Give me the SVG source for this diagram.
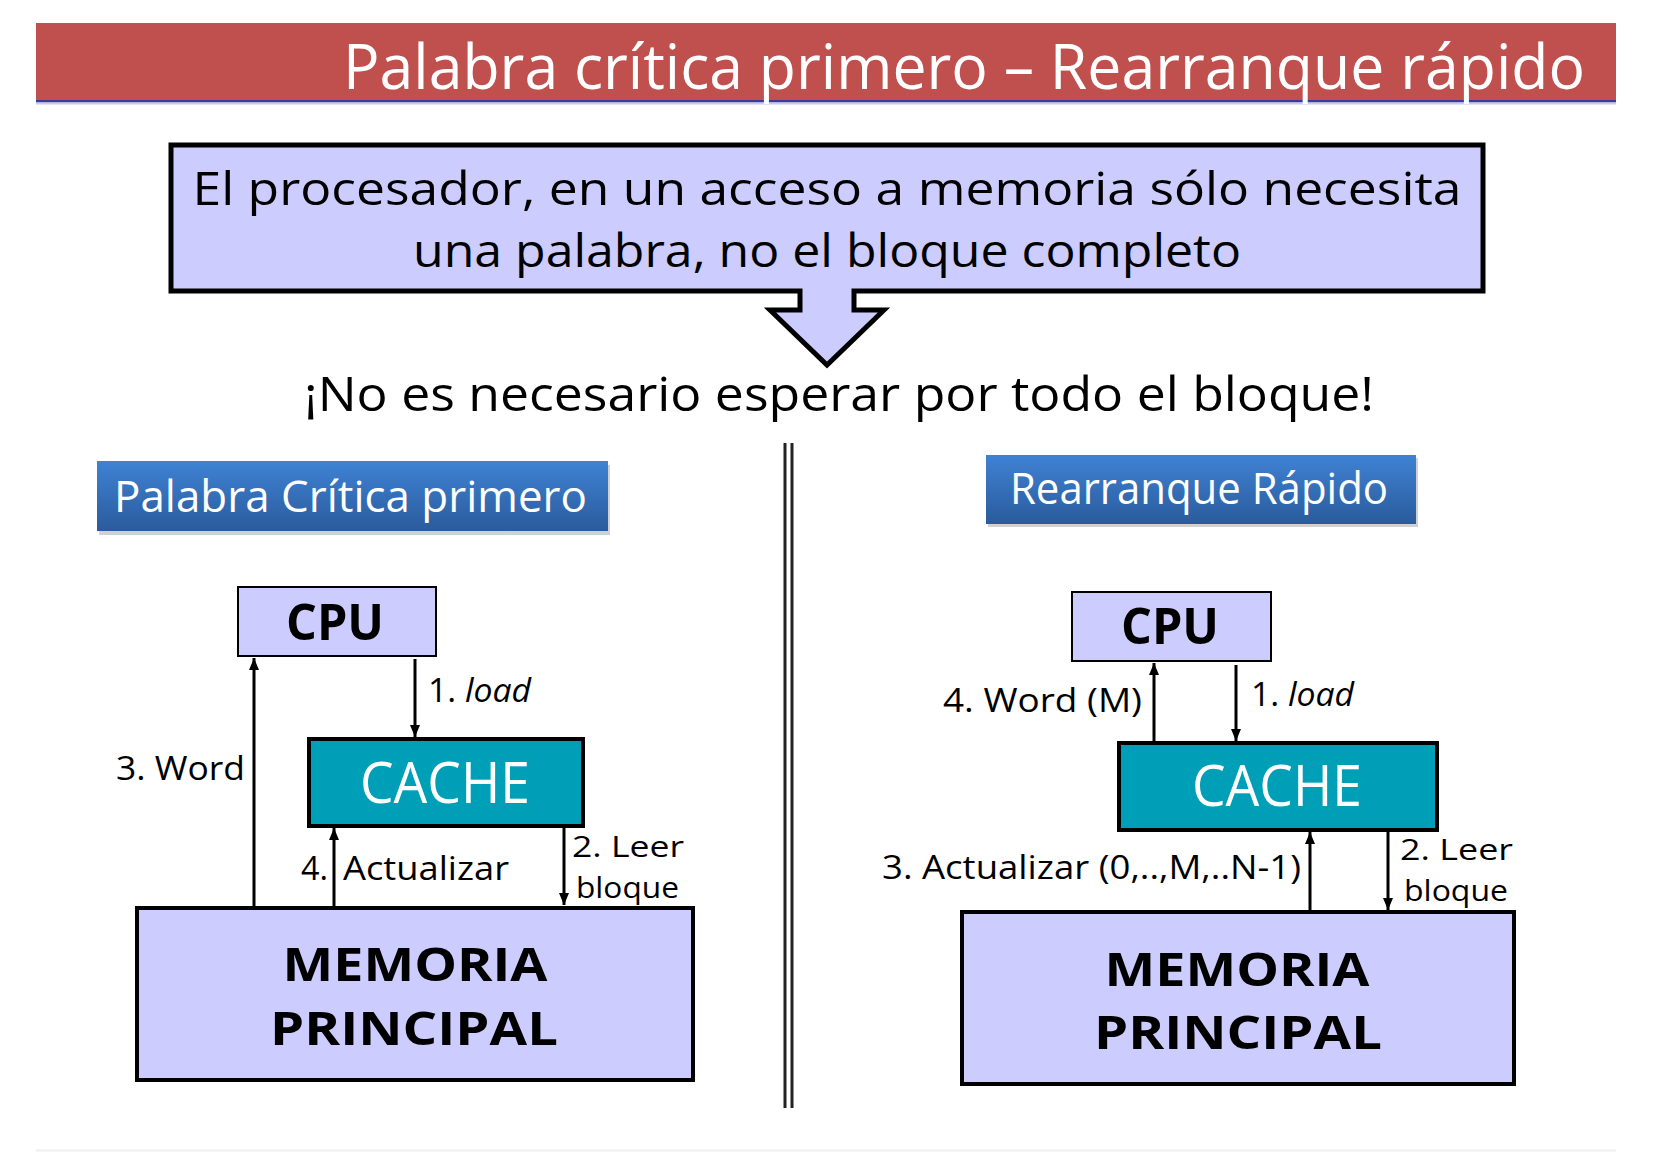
<svg xmlns="http://www.w3.org/2000/svg" width="1654" height="1152" viewBox="0 0 1654 1152">
<style>
.t{font-family:"Open Sans","Liberation Sans",sans-serif;}
.box{fill:#ccccff;stroke:#000;}
.cache{fill:#009fb8;stroke:#000;stroke-width:4;}
.lbl{font-family:"Open Sans","Liberation Sans",sans-serif;font-size:33px;fill:#000;}
.lbs{font-family:"Open Sans","Liberation Sans",sans-serif;font-size:29px;fill:#000;}
.big{font-family:"Open Sans","Liberation Sans",sans-serif;font-weight:700;fill:#000;text-anchor:middle;}
.conn line{stroke:#000;stroke-width:3;marker-end:url(#ah);}
</style>
<defs>
<marker id="ah" viewBox="0 0 12 12" refX="12" refY="6" markerWidth="12" markerHeight="12" orient="auto" markerUnits="userSpaceOnUse">
<path d="M0,1 L12,6 L0,11 z" fill="#000"/>
</marker>
<linearGradient id="bg" x1="0" y1="0" x2="0" y2="1">
<stop offset="0" stop-color="#3f82d4"/>
<stop offset="1" stop-color="#2a5b9c"/>
</linearGradient>
</defs>
<rect width="1654" height="1152" fill="#fff"/>

<g id="title">
<rect x="36" y="23" width="1580" height="78" fill="#c0504d"/>
<rect x="36" y="100" width="1580" height="2.5" fill="#3b3b9a"/>
<rect x="36" y="102.5" width="1580" height="2" fill="#c9c9ee"/>
<text class="t" x="343" y="89" font-size="62" fill="#fff" textLength="1242" lengthAdjust="spacingAndGlyphs">Palabra crítica primero – Rearranque rápido</text>
</g>

<g id="statement">
<rect class="box" x="171" y="145" width="1312" height="146" stroke-width="5"/>
<rect x="802.5" y="287" width="49" height="8" fill="#ccccff"/>
<path d="M800,291 V310 H770 L827,365 L884,310 H854 V291" fill="#ccccff" stroke="#000" stroke-width="5" stroke-linejoin="miter"/>
<text class="t" x="827" y="205" font-size="45" text-anchor="middle" textLength="1269" lengthAdjust="spacingAndGlyphs">El procesador, en un acceso a memoria sólo necesita</text>
<text class="t" x="827" y="267" font-size="45" text-anchor="middle" textLength="828" lengthAdjust="spacingAndGlyphs">una palabra, no el bloque completo</text>
</g>

<g id="conclusion">
<text class="t" x="839" y="411" font-size="48" text-anchor="middle" textLength="1070" lengthAdjust="spacingAndGlyphs">¡No es necesario esperar por todo el bloque!</text>
</g>

<g id="divider">
<line x1="785" y1="443" x2="785" y2="1108" stroke="#222" stroke-width="3"/>
<line x1="792" y1="443" x2="792" y2="1108" stroke="#222" stroke-width="3"/>
</g>

<g id="label-left">
<rect x="99" y="465" width="511" height="70" fill="#000" opacity="0.18"/>
<rect x="97" y="461" width="511" height="70" fill="url(#bg)"/>
<text class="t" x="114" y="512" font-size="44" fill="#fff" textLength="473" lengthAdjust="spacingAndGlyphs">Palabra Crítica primero</text>
</g>

<g id="label-right">
<rect x="988" y="458" width="430" height="69" fill="#000" opacity="0.18"/>
<rect x="986" y="455" width="430" height="69" fill="url(#bg)"/>
<text class="t" x="1010" y="504" font-size="44" fill="#fff" textLength="378" lengthAdjust="spacingAndGlyphs">Rearranque Rápido</text>
</g>

<g id="cpu-left">
<rect class="box" x="238" y="587" width="198" height="69" stroke-width="2"/>
<text class="big" x="335" y="640" font-size="50" textLength="98" lengthAdjust="spacingAndGlyphs">CPU</text>
</g>
<g id="cache-left">
<rect class="cache" x="309" y="739" width="274" height="87"/>
<text class="t" x="445" y="803" font-size="56" fill="#fff" text-anchor="middle" textLength="170" lengthAdjust="spacingAndGlyphs">CACHE</text>
</g>
<g id="memoria-left">
<rect class="box" x="137" y="908" width="556" height="172" stroke-width="4"/>
<text class="big" x="415" y="981" font-size="46" textLength="265" lengthAdjust="spacingAndGlyphs">MEMORIA</text>
<text class="big" x="414" y="1045" font-size="46" textLength="288" lengthAdjust="spacingAndGlyphs">PRINCIPAL</text>
</g>

<g id="cpu-right">
<rect class="box" x="1072" y="592" width="199" height="69" stroke-width="2"/>
<text class="big" x="1170" y="644" font-size="50" textLength="98" lengthAdjust="spacingAndGlyphs">CPU</text>
</g>
<g id="cache-right">
<rect class="cache" x="1119" y="743" width="318" height="87"/>
<text class="t" x="1277" y="806" font-size="56" fill="#fff" text-anchor="middle" textLength="170" lengthAdjust="spacingAndGlyphs">CACHE</text>
</g>
<g id="memoria-right">
<rect class="box" x="962" y="912" width="552" height="172" stroke-width="4"/>
<text class="big" x="1237" y="986" font-size="46" textLength="265" lengthAdjust="spacingAndGlyphs">MEMORIA</text>
<text class="big" x="1238" y="1049" font-size="46" textLength="288" lengthAdjust="spacingAndGlyphs">PRINCIPAL</text>
</g>

<g id="connectors" class="conn">
<line x1="254" y1="906" x2="254" y2="658"/>
<line x1="415" y1="659" x2="415" y2="737"/>
<line x1="334" y1="906" x2="334" y2="828"/>
<line x1="564" y1="828" x2="564" y2="905"/>
<line x1="1154" y1="741" x2="1154" y2="663"/>
<line x1="1236" y1="665" x2="1236" y2="741"/>
<line x1="1310" y1="910" x2="1310" y2="832"/>
<line x1="1388" y1="832" x2="1388" y2="910"/>
</g>

<g id="connector-labels">
<text class="lbl" x="116" y="780" textLength="129" lengthAdjust="spacingAndGlyphs">3. Word</text>
<text class="lbl" x="428" y="702" textLength="103" lengthAdjust="spacingAndGlyphs">1. <tspan font-style="italic">load</tspan></text>
<text class="lbl" x="301" y="880" textLength="27" lengthAdjust="spacingAndGlyphs">4.</text>
<text class="lbl" x="343" y="880" textLength="166" lengthAdjust="spacingAndGlyphs">Actualizar</text>
<text class="lbs" x="572" y="857" textLength="112" lengthAdjust="spacingAndGlyphs">2. Leer</text>
<text class="lbs" x="576" y="898" textLength="103" lengthAdjust="spacingAndGlyphs">bloque</text>
<text class="lbl" x="943" y="712" textLength="199" lengthAdjust="spacingAndGlyphs">4. Word (M)</text>
<text class="lbl" x="1251" y="706" textLength="103" lengthAdjust="spacingAndGlyphs">1. <tspan font-style="italic">load</tspan></text>
<text class="lbl" x="882" y="879" textLength="419" lengthAdjust="spacingAndGlyphs">3. Actualizar (0,..,M,..N-1)</text>
<text class="lbs" x="1400" y="860" textLength="113" lengthAdjust="spacingAndGlyphs">2. Leer</text>
<text class="lbs" x="1404" y="901" textLength="104" lengthAdjust="spacingAndGlyphs">bloque</text>
</g>

<line x1="36" y1="1150.5" x2="1616" y2="1150.5" stroke="#eeeeee" stroke-width="2"/>
</svg>
